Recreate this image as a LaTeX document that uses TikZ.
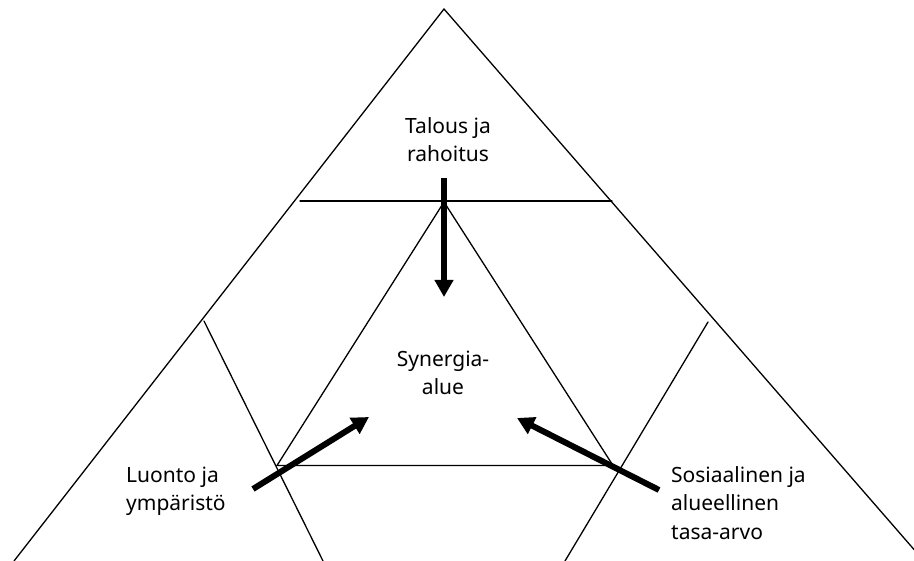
\documentclass[tikz,border=0pt]{standalone}
\usepackage{fontspec}
\setmainfont{Noto Sans}
\usetikzlibrary{arrows.meta}

\begin{document}
\begin{tikzpicture}[x=1pt,y=-1pt,
  thinline/.style={line width=1.3pt, line cap=round},
  bigarrow/.style={line width=6pt, -{Triangle[width=18pt,length=17pt]}},
  label/.style={inner sep=0pt, font=\fontsize{21}{28.5}\selectfont}]
  \useasboundingbox (0,0) rectangle (914,561);
  \clip (0,0) rectangle (914,561);

  % outer triangle
  \coordinate (apex) at (444,9);
  \coordinate (bl) at (14,561);
  \coordinate (br) at (924,561);
  \draw[thinline] (bl) -- (apex) -- (br);

  % inner (synergy) triangle
  \coordinate (ia) at (444,202);
  \coordinate (il) at (277,465.5);
  \coordinate (ir) at (613,465.5);
  \draw[thinline] (ia) -- (il) -- (ir) -- cycle;

  % dividing lines between the three sectors
  \coordinate (h1) at (300,201);
  \coordinate (h2) at (612,201);
  \draw[thinline] (h1) -- (h2);
  \coordinate (l1) at (204,321);
  \coordinate (l2) at (323,561);
  \draw[thinline] (l1) -- (l2);
  \coordinate (r1) at (708,322);
  \coordinate (r2) at (565,561);
  \draw[thinline] (r1) -- (r2);

  % arrows towards the synergy area
  \coordinate (ta) at (444,178);
  \coordinate (tb) at (444,297);
  \draw[bigarrow] (ta) -- (tb);
  \coordinate (la) at (253,489);
  \coordinate (lb) at (369,417);
  \draw[bigarrow] (la) -- (lb);
  \coordinate (ra) at (659,490);
  \coordinate (rb) at (517,418);
  \draw[bigarrow] (ra) -- (rb);

  % labels
  \node[label, anchor=north, align=center] (talous) at (448,117) {Talous ja\\rahoitus};
  \node[label, anchor=north, align=center] (synergia) at (443,350.5) {Synergia-\\alue};
  \node[label, anchor=north west, align=left] (luonto) at (126,466.5) {Luonto ja\\ympäristö};
  \node[label, anchor=north west, align=left] (sosiaali) at (671,466) {Sosiaalinen ja\\alueellinen\\tasa-arvo};
\end{tikzpicture}
\end{document}
